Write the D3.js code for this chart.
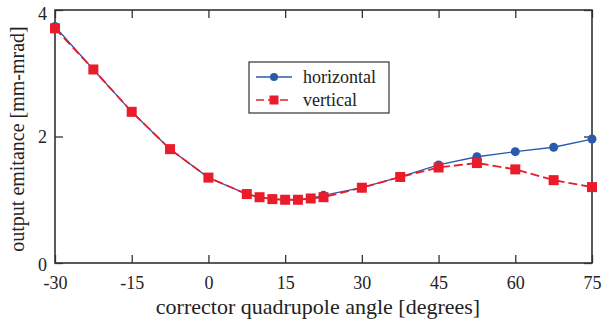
<!DOCTYPE html>
<html>
<head>
<meta charset="utf-8">
<script src="https://cdn.jsdelivr.net/npm/d3@7"></script>
<style>
  body { margin: 0; background: #fff; }
</style>
</head>
<body>
<div id="chart"></div>
<script>
;(function(d3){

    'use strict';

    // angles
    var angles = [-30, -22.5, -15, -7.5, 0, 7.5, 10, 12.5, 15, 17.5, 20, 22.5, 30, 37.5, 45, 52.5, 60, 67.5, 75];

    var horizontal = [3.74, 3.06, 2.39, 1.80, 1.35, 1.09, 1.04, 1.01, 1.00, 1.00, 1.02, 1.07, 1.19, 1.36, 1.55, 1.68, 1.76, 1.83, 1.96];
    var vertical   = [3.71, 3.06, 2.39, 1.80, 1.35, 1.09, 1.04, 1.01, 1.00, 1.00, 1.02, 1.04, 1.19, 1.36, 1.51, 1.58, 1.48, 1.31, 1.20];

    var xTicks = [-30, -15, 0, 15, 30, 45, 60, 75];
    var yTicks = [0, 2, 4];

    var seriesNames = ['horizontal', 'vertical'];

    var W = 607, H = 326;
    var left = 55, right = 592, top = 10, bottom = 263;

    var blue = '#2a5bab', red = '#ea1c2a';
    var serif = '"Liberation Serif", "Times New Roman", Times, serif';

    var svg = d3.select('#chart').append('svg')
        .attr('width', W).attr('height', H)
        .style('font-family', serif);

    var x = d3.scaleLinear().domain([-30, 75]).range([left, right]);
    var y = d3.scaleLinear().domain([0, 4]).range([bottom, top]);

    // plain hyphen, like the original
    var fmt = function(d){ return String(d); };

    // inward ticks on all four sides
    function styleAxis(g){
        g.attr('font-family', serif);
        g.select('.domain').remove();
        g.selectAll('.tick line').attr('stroke', '#333').attr('stroke-width', 1.3);
        g.selectAll('.tick text').attr('fill', '#222').attr('font-size', 18);
    }

    svg.append('g').attr('transform', 'translate(0,' + bottom + ')')
        .call(d3.axisBottom(x).tickValues(xTicks).tickSize(-8).tickPadding(13).tickFormat(fmt))
        .call(styleAxis);

    svg.append('g').attr('transform', 'translate(0,' + top + ')')
        .call(d3.axisTop(x).tickValues(xTicks).tickSize(-8).tickFormat(''))
        .call(styleAxis);

    var yAxisG = svg.append('g').attr('transform', 'translate(' + left + ',0)')
        .call(d3.axisLeft(y).tickValues(yTicks).tickSize(-8).tickPadding(8).tickFormat(fmt))
        .call(styleAxis);
    yAxisG.selectAll('.tick text')
        .attr('dy', function(d){ return d === 0 ? '0.4em' : (d === 4 ? '0.5em' : '0.32em'); });

    svg.append('g').attr('transform', 'translate(' + right + ',0)')
        .call(d3.axisRight(y).tickValues(yTicks).tickSize(-8).tickFormat(''))
        .call(styleAxis);

    // frame
    svg.append('rect')
        .attr('x', left).attr('y', top)
        .attr('width', right - left).attr('height', bottom - top)
        .attr('fill', 'none').attr('stroke', '#333').attr('stroke-width', 1.6);

    var line = d3.line()
        .x(function(d){ return x(d[0]); })
        .y(function(d){ return y(d[1]); });

    var hData = d3.zip(angles, horizontal);
    var vData = d3.zip(angles, vertical);

    svg.append('path').datum(hData).attr('d', line)
        .attr('fill', 'none').attr('stroke', blue).attr('stroke-width', 1.3);

    svg.selectAll('circle.h').data(hData).enter().append('circle')
        .attr('class', 'h')
        .attr('cx', function(d){ return x(d[0]); })
        .attr('cy', function(d){ return y(d[1]); })
        .attr('r', 4.5).attr('fill', blue);

    svg.append('path').datum(vData).attr('d', line)
        .attr('fill', 'none').attr('stroke', red).attr('stroke-width', 1.8)
        .attr('stroke-dasharray', '9,4');

    var sq = 10;
    svg.selectAll('rect.v').data(vData).enter().append('rect')
        .attr('class', 'v')
        .attr('x', function(d){ return x(d[0]) - sq / 2; })
        .attr('y', function(d){ return y(d[1]) - sq / 2; })
        .attr('width', sq).attr('height', sq).attr('fill', red);

    // legend
    var lg = svg.append('g');
    lg.append('rect')
        .attr('x', 249).attr('y', 62).attr('width', 140).attr('height', 51)
        .attr('fill', '#fff').attr('stroke', '#333').attr('stroke-width', 1.2);

    seriesNames.forEach(function(name, i){
        var ly = 77 + i * 23;
        var col = i === 0 ? blue : red;
        lg.append('line')
            .attr('x1', 256).attr('x2', 292).attr('y1', ly).attr('y2', ly)
            .attr('stroke', col).attr('stroke-width', i === 0 ? 1.3 : 1.6)
            .attr('stroke-dasharray', i === 0 ? null : '8,4');
        if (i === 0) {
            lg.append('circle').attr('cx', 274).attr('cy', ly).attr('r', 4).attr('fill', col);
        } else {
            lg.append('rect').attr('x', 269.5).attr('y', ly - 4.5).attr('width', 9).attr('height', 9).attr('fill', col);
        }
        lg.append('text')
            .attr('x', 303).attr('y', ly).attr('dy', '0.35em')
            .attr('font-size', 18).attr('fill', '#222').text(name);
    });

    // axis titles
    svg.append('text')
        .attr('x', 318).attr('y', 314)
        .attr('text-anchor', 'middle').attr('font-size', 22).attr('fill', '#222')
        .text('corrector quadrupole angle [degrees]');

    svg.append('text')
        .attr('transform', 'translate(24,139) rotate(-90)')
        .attr('text-anchor', 'middle').attr('font-size', 20).attr('fill', '#222')
        .text('output emitance [mm-mrad]');

}(window.d3));
</script>
</body>
</html>
